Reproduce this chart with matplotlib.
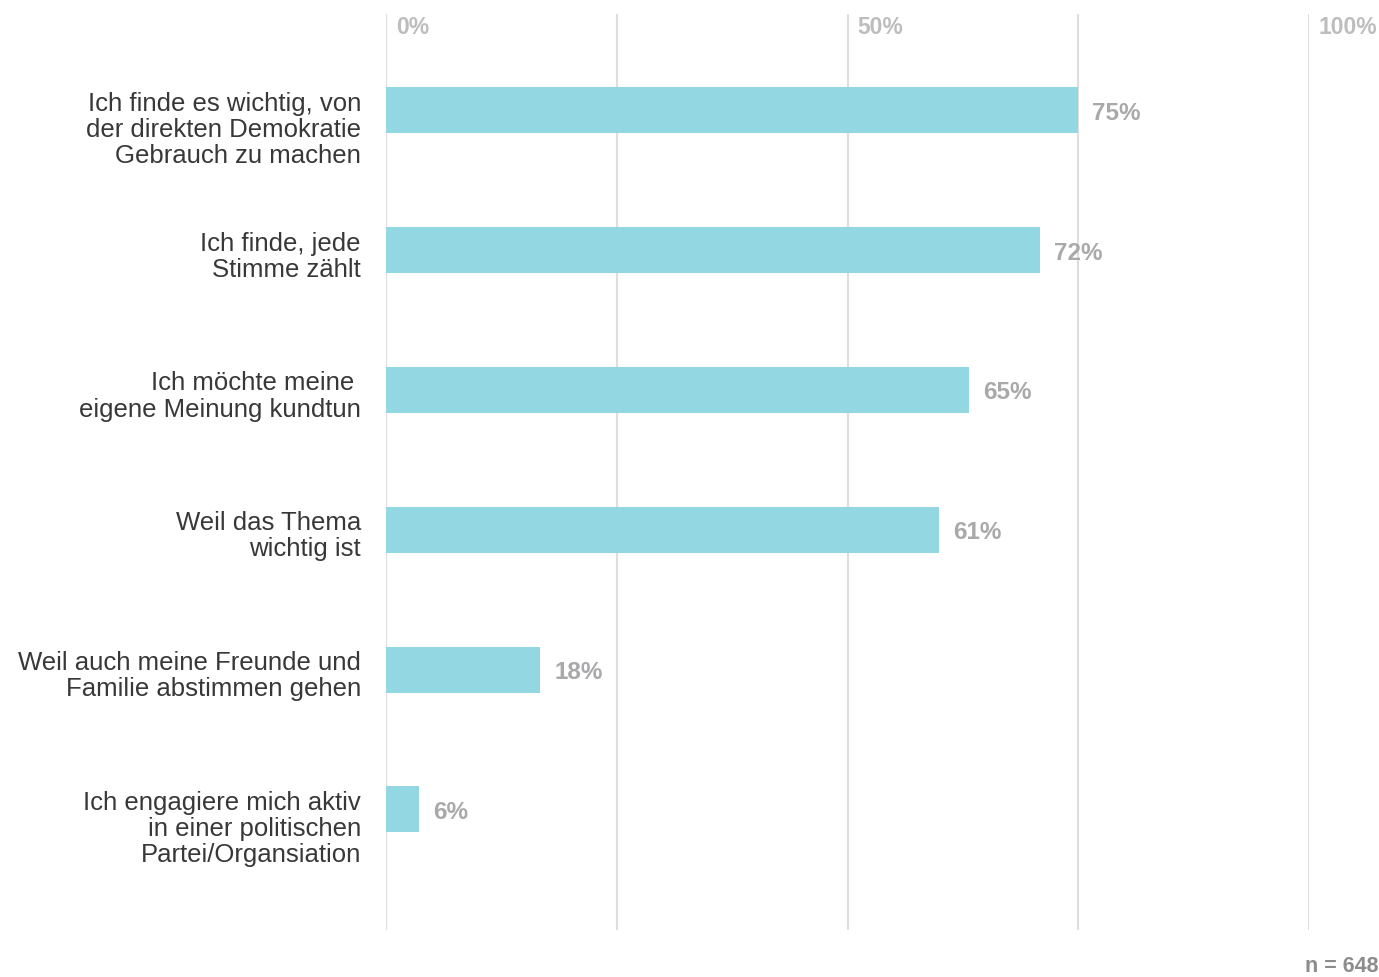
import matplotlib.pyplot as plt

categories = [
    "Ich finde es wichtig, von\nder direkten Demokratie\nGebrauch zu machen",
    "Ich finde, jede\nStimme zählt",
    "Ich möchte meine \neigene Meinung kundtun",
    "Weil das Thema\nwichtig ist",
    "Weil auch meine Freunde und\nFamilie abstimmen gehen",
    "Ich engagiere mich aktiv\nin einer politischen\nPartei/Organsiation",
]
# bar lengths as drawn in the picture (percent)
bar_values = [75, 70.9, 63.2, 59.9, 16.7, 3.6]
# printed labels
value_labels = ["75%", "72%", "65%", "61%", "18%", "6%"]
grid_ticks = [0, 25, 50, 75, 100]
top_labels = {0: "0%", 50: "50%", 100: "100%"}

BAR = "#93d7e3"
GRID = "#dedede"
LABEL_GREY = "#a9a9ab"

plt.rcParams['font.family'] = ['Liberation Sans', 'DejaVu Sans']

fig = plt.figure(figsize=(13.79, 9.77), dpi=100)
ax = fig.add_axes([386 / 1379, 47 / 977, 923 / 1379, 916 / 977])

ypos = list(range(len(categories)))
for x in grid_ticks:
    ax.axvline(x, color=GRID, lw=1.5, zorder=0)

ax.barh(ypos, bar_values, height=46 / 139.8, color=BAR, zorder=2)

for y, v, lab in zip(ypos, bar_values, value_labels):
    ax.annotate(lab, xy=(v, y), xytext=(10, -2), textcoords='offset points',
                ha='left', va='center', fontsize=17.5, fontweight='bold',
                color=LABEL_GREY, zorder=3)

for y, cat in zip(ypos, categories):
    ax.annotate(cat, xy=(0, y), xytext=(-18, 13.5), textcoords='offset points',
                ha='right', va='top', fontsize=18.5, color='#383838',
                linespacing=1.12)

for x, lab in top_labels.items():
    ax.annotate(lab, xy=(x, 1), xycoords=('data', 'axes fraction'),
                xytext=(7, -9.5), textcoords='offset points',
                ha='left', va='center', fontsize=16.5, fontweight='bold',
                color='#bdbdbd')

ax.set_xlim(0, 100)
ax.set_ylim(5.862, -0.690)
ax.axis('off')

fig.text(0.9995, 10 / 977, "n = 648", ha='right', va='center', fontsize=15.5,
         fontweight='bold', color='#8c8c8c')

fig.savefig("out.png", dpi=100)
